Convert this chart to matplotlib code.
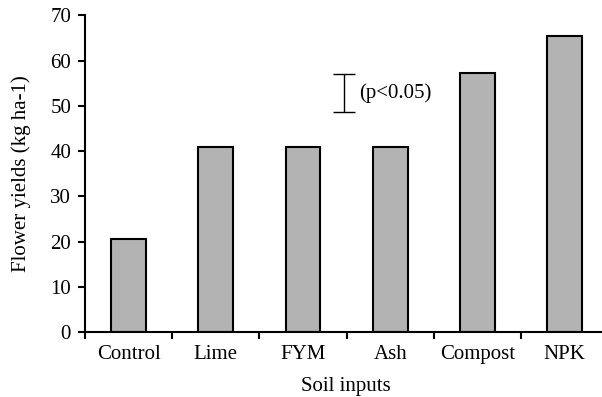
import matplotlib
matplotlib.use("Agg")
import matplotlib.pyplot as plt
import numpy as np

categories = ["Control", "Lime", "FYM", "Ash", "Compost", "NPK"]
yields = [20.5, 40.9, 40.9, 40.9, 57.3, 65.4]
yticks = [0, 10, 20, 30, 40, 50, 60, 70]
sig_x = 2.475
sig_low, sig_high = 48.6, 57.1
sig_label = "(p<0.05)"

plt.rcParams['font.family'] = ['Liberation Serif', 'DejaVu Serif']
FS = 15

fig = plt.figure(figsize=(6.02, 3.97), dpi=100)
ax = fig.add_axes([85/602, 65/397, (608.2-85)/602, 316.67/397])

x = np.arange(len(categories))
ax.bar(x, yields, width=0.4, color="#b3b3b3", edgecolor="black", linewidth=1.5, zorder=2)

ax.set_xlim(-0.5, len(categories) - 0.5)
ax.set_ylim(0, 70)
ax.set_yticks(yticks)
ax.set_yticklabels([str(t) for t in yticks], fontsize=FS)
ax.set_xticks(x)
ax.set_xticklabels(categories, fontsize=FS)
ax.tick_params(axis='x', which='major', length=0, pad=9.5)
ax.set_xticks(np.arange(-0.5, len(categories), 1.0), minor=True)
ax.tick_params(axis='x', which='minor', length=5, width=1.5, direction='out')
ax.tick_params(axis='y', length=5, width=1.5, direction='out', pad=5)

for s in ["top", "right"]:
    ax.spines[s].set_visible(False)
for s in ["left", "bottom"]:
    ax.spines[s].set_linewidth(1.5)

mid = (sig_low + sig_high) / 2
ax.errorbar([sig_x], [mid], yerr=[[mid - sig_low], [sig_high - mid]], fmt='none',
            ecolor='black', elinewidth=1, capsize=8, capthick=1)
ax.text(sig_x + 0.17, mid, sig_label, fontsize=FS, va='center', ha='left')

ax.set_ylabel("Flower yields (kg ha-1)", fontsize=FS)
ax.set_xlabel("Soil inputs", fontsize=FS)
ax.yaxis.set_label_coords(21/602, (397 - 173.5) / 397, transform=fig.transFigure)
ax.xaxis.set_label_coords(346 / 602, (397 - 387) / 397, transform=fig.transFigure)
ax.xaxis.label.set_va('center')
ax.yaxis.label.set_va('center')
fig.savefig("out.png", dpi=100)
